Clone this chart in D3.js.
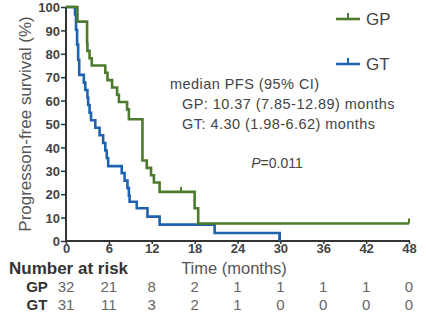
<!DOCTYPE html>
<html><head><meta charset="utf-8">
<script src="https://cdn.jsdelivr.net/npm/d3@7"></script>
<style>html,body{margin:0;padding:0;background:#fff}svg{display:block}</style>
</head><body><div id="chart"></div>
<script>
// ---- data ----
const groups = ["GP", "GT"];
const gpTimes = [0, 1.6, 2.95, 3.0, 3.3, 3.6, 5.5, 5.8, 6.45, 7.15, 7.4, 8.55, 8.8, 10.7, 11.3, 11.9, 12.3, 13.1, 18.0, 18.5, 48];
const gpSurv  = [100, 93.75, 84.4, 81.25, 78.1, 75, 71.9, 68.75, 65.6, 62.5, 59.4, 56.25, 52, 34.4, 31.25, 28.1, 25, 21, 14, 7.5, 7.5];
const gtTimes = [0, 1.26, 1.4, 1.55, 1.7, 1.85, 2.5, 2.7, 3.0, 3.1, 3.3, 3.5, 4.1, 4.7, 5.2, 5.5, 5.7, 5.9, 7.8, 8.2, 8.6, 8.8, 8.9, 9.9, 11.4, 13.1, 20.8, 29.9];
const gtSurv  = [100, 96.8, 90.3, 83.9, 77.4, 71.0, 67.7, 64.5, 61.3, 58.1, 54.8, 51.6, 48.4, 45.2, 41.9, 38.7, 35.5, 32, 29.0, 25.8, 22.6, 19.4, 16.8, 14, 10.4, 7.0, 3.4, 0];
const gpCensorT = [16.1, 48];
const gpCensorS = [21, 7.5];
const xTicks = [0, 6, 12, 18, 24, 30, 36, 42, 48];
const yTicks = [0, 10, 20, 30, 40, 50, 60, 70, 80, 90, 100];
const riskGP = [32, 21, 8, 2, 1, 1, 1, 1, 0];
const riskGT = [31, 11, 3, 2, 1, 0, 0, 0, 0];
const annoLines = ["median PFS (95% CI)", "GP: 10.37 (7.85-12.89) months", "GT: 4.30 (1.98-6.62) months"];
const pText = "=0.011";

// ---- layout ----
const W = 426, H = 331;
const colGP = "#4c7b2c", colGT = "#1f63ae";
const svg = d3.select("#chart").append("svg").attr("width", W).attr("height", H)
  .style("font-family", "'Liberation Sans', Arial, sans-serif");

const x = d3.scaleLinear().domain([0, 48]).range([66, 409]);
const y = d3.scaleLinear().domain([0, 100]).range([241, 7]);

// axes
const xAxis = svg.append("g").attr("transform", `translate(0,${y(0)})`)
  .call(d3.axisBottom(x).tickValues(xTicks).tickSize(3).tickPadding(0));
const yAxis = svg.append("g").attr("transform", `translate(${x(0)},0)`)
  .call(d3.axisLeft(y).tickValues(yTicks).tickSize(5).tickPadding(1));
[xAxis, yAxis].forEach(g => {
  g.select(".domain").attr("stroke", "#333").attr("stroke-width", 2);
  g.selectAll(".tick line").attr("stroke", "#333").attr("stroke-width", 1.5);
  g.selectAll(".tick text").attr("fill", "#444").style("font-size", "13px").style("font-weight", "bold")
    .style("font-family", "'Liberation Sans', Arial, sans-serif");
});
xAxis.select(".domain").attr("d", `M${x(0)},0H${x(48)+1}`);
yAxis.select(".domain").attr("d", `M0,${y(100)}V${y(0)}`);
yAxis.selectAll(".tick text").attr("dy", "0.36em");

// y label
svg.append("text")
  .attr("transform", `translate(31,${(y(0)+y(100))/2}) rotate(-90)`)
  .attr("text-anchor", "middle").attr("fill", "#555").style("font-size", "17px")
  .text("Progresson-free survival (%)");

// curves
const line = d3.line().x(d => x(d[0])).y(d => y(d[1])).curve(d3.curveStepAfter);
function draw(times, surv, col) {
  const pts = times.map((t, i) => [t, surv[i]]);
  svg.append("path").datum(pts).attr("d", line).attr("fill", "none")
    .attr("stroke", col).attr("stroke-width", 2.6).attr("stroke-linejoin", "miter");
}
draw(gtTimes, gtSurv, colGT);
draw(gpTimes, gpSurv, colGP);
// GT final drop to zero
svg.append("line").attr("x1", x(29.9)).attr("x2", x(29.9)).attr("y1", y(3.4)).attr("y2", y(0))
  .attr("stroke", colGT).attr("stroke-width", 2.6);
// censor marks
gpCensorT.forEach((t, i) => {
  svg.append("line").attr("x1", x(t)).attr("x2", x(t)).attr("y1", y(gpCensorS[i])).attr("y2", y(gpCensorS[i]) - 5)
    .attr("stroke", colGP).attr("stroke-width", 2);
});

// legend
const legY = [19, 64];
[colGP, colGT].forEach((c, i) => {
  const ly = legY[i];
  svg.append("line").attr("x1", 336).attr("x2", 360).attr("y1", ly).attr("y2", ly).attr("stroke", c).attr("stroke-width", 2.6);
  svg.append("line").attr("x1", 348).attr("x2", 348).attr("y1", ly).attr("y2", ly - 6).attr("stroke", c).attr("stroke-width", 2);
  svg.append("text").attr("x", 366).attr("y", ly + 6).attr("fill", "#444").style("font-size", "17px").text(groups[i]);
});

// annotation
const annoX = [170, 182, 182], annoY = [89, 109, 129];
annoLines.forEach((s, i) => {
  svg.append("text").attr("x", annoX[i]).attr("y", annoY[i]).attr("fill", "#444")
    .style("font-size", "14.5px").style("letter-spacing", "0.45px").text(s);
});
const pt = svg.append("text").attr("x", 277).attr("y", 168).attr("text-anchor", "middle")
  .attr("fill", "#444").style("font-size", "14px");
pt.append("tspan").style("font-style", "italic").text("P");
pt.append("tspan").text(pText);

// number at risk
svg.append("text").attr("x", 9).attr("y", 274).attr("fill", "#333").style("font-size", "17px")
  .style("font-weight", "bold").text("Number at risk");
svg.append("text").attr("x", 234).attr("y", 274).attr("text-anchor", "middle").attr("fill", "#555")
  .style("font-size", "16.5px").text("Time (months)");
const rowY = [292, 310];
[riskGP, riskGT].forEach((row, r) => {
  svg.append("text").attr("x", 37).attr("y", rowY[r]).attr("text-anchor", "middle").attr("fill", "#333")
    .style("font-size", "15px").style("font-weight", "bold").text(groups[r]);
  svg.selectAll(null).data(row).enter().append("text")
    .attr("x", (d, i) => x(xTicks[i])).attr("y", rowY[r]).attr("text-anchor", "middle")
    .attr("fill", "#666").style("font-size", "15px").text(d => d);
});
</script></body></html>
